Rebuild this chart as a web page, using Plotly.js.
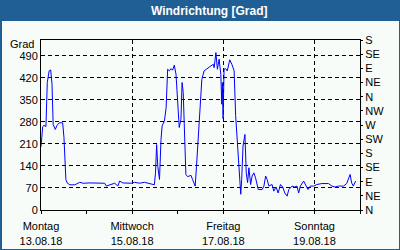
<!DOCTYPE html>
<html>
<head>
<meta charset="utf-8">
<script src="https://cdn.plot.ly/plotly-3.0.1.min.js"></script>
<style>html,body{margin:0;padding:0;}#chart{width:400px;height:250px;}</style>
</head>
<body>
<div id="chart"></div>
<script>
// Hours since Monday 13.08.18 00:00
const startDate = '2018-08-13T00:00:00Z';
const hours = [0,0.9,1.6,2.6,3.3,4.3,5.1,5.8,6.4,7.5,8.5,9.6,11.4,12.1,13.1,13.8,15.2,17.8,20.4,22.2,
  25.7,28.3,30.9,33.5,34.4,37.0,38.8,40.5,41.4,43.1,44.9,47.5,49.3,51.9,54.5,57.1,59.7,60.3,60.9,61.5,
  62.4,63.2,63.8,65.0,65.9,66.7,67.6,68.5,69.3,70.2,71.1,71.9,72.8,73.7,74.3,74.9,75.5,76.3,77.2,79.0,
  79.8,81.2,81.9,83.3,84.7,85.9,87.7,89.4,90.7,91.2,92.1,92.9,93.8,94.7,95.2,95.5,95.9,96.4,97.3,98.1,
  99.4,100.5,101.7,102.5,103.4,104.3,105.2,105.7,106.4,107.4,108.1,108.8,109.5,110.4,111.2,112.1,113.0,114.4,115.6,116.5,
  117.4,118.3,119.1,120.0,121.7,122.6,123.8,124.9,126.1,127.3,128.4,129.6,130.5,132.2,133.6,134.8,135.7,136.6,138.3,139.5,
  140.6,141.8,143.6,145.3,147.9,151.4,153.2,154.9,156.7,159.3,161.0,162.8,163.6,164.5,165.7];
const direction = [201,265,269,265,405,442,445,400,272,256,269,277,277,230,97,86,80,80,88,85,
  86,85,86,85,76,80,85,76,92,86,85,85,88,85,88,84,80,118,208,139,
  97,224,267,283,325,447,442,449,444,460,431,352,262,288,405,373,224,113,106,110,
  97,76,139,298,415,442,449,458,463,452,500,447,479,431,336,405,290,447,449,442,
  477,463,442,300,224,150,50,97,203,240,118,87,134,81,108,118,102,65,65,65,
  76,108,97,76,81,60,73,54,81,73,54,44,65,76,73,76,54,76,92,76,
  65,76,76,81,84,84,76,73,76,76,84,113,86,76,92];

const leftTicks = [0,70,140,210,280,350,420,490];
const rightTickVals = [0,45,90,135,180,225,270,315,360,405,450,495,540];
const rightTickText = ['N','NE','E','SE','S','SW','W','NW','N','NE','E','SE','S'];
const majorTickDates = ['2018-08-13','2018-08-15','2018-08-17','2018-08-19'];
const majorTickText = ['Montag<br>13.08.18','Mittwoch<br>15.08.18','Freitag<br>17.08.18','Sonntag<br>19.08.18'];
const minorTickDates = ['2018-08-13','2018-08-14','2018-08-15','2018-08-16','2018-08-17','2018-08-18','2018-08-19','2018-08-20'];

const t0 = Date.parse(startDate);
const xs = hours.map(h => new Date(t0 + h*3600000).toISOString().slice(0,19).replace('T',' '));

const FONT = 'Liberation Sans, Arial, sans-serif';
const trace = {
  x: xs, y: direction, type: 'scatter', mode: 'lines',
  line: {color: '#0000ff', width: 1}, hoverinfo: 'skip'
};
const trace2 = {x: [xs[0]], y: [0], yaxis: 'y2', mode: 'markers', marker: {opacity: 0}, hoverinfo: 'skip', showlegend: false};

const layout = {
  width: 400, height: 250,
  margin: {l: 41, r: 40, t: 40, b: 40, pad: 0},
  paper_bgcolor: '#1f5f95',
  plot_bgcolor: '#f8fcf8',
  showlegend: false,
  font: {family: FONT, size: 11, color: '#000'},
  title: {
    text: 'Windrichtung [Grad]',
    font: {family: FONT, size: 12, color: '#ffffff', weight: 'bold'},
    x: 0.523, xref: 'container', xanchor: 'center',
    y: 0.958, yref: 'container', yanchor: 'middle'
  },
  xaxis: {
    type: 'date',
    range: ['2018-08-13 00:00', '2018-08-20 00:00'],
    tickmode: 'array', tickvals: majorTickDates, ticktext: majorTickText,
    ticks: 'outside', ticklen: 3, tickcolor: '#000', tickwidth: 1,
    ticklabelstandoff: 3,
    showline: true, linecolor: '#000', linewidth: 1, mirror: true,
    showgrid: true, gridcolor: '#000', griddash: '4px,3px', gridwidth: 1,
    zeroline: false,
    tickfont: {family: FONT, size: 11, color: '#000'},
    minor: {tickmode: 'array', tickvals: minorTickDates, ticks: 'outside', ticklen: 3, tickcolor: '#000', showgrid: false}
  },
  yaxis: {
    range: [0, 540],
    tickmode: 'array', tickvals: leftTicks,
    ticks: '', showline: true, linecolor: '#000', linewidth: 1, mirror: true,
    showgrid: true, gridcolor: '#000', griddash: '4px,3px', gridwidth: 1,
    zeroline: false,
    tickfont: {family: FONT, size: 11, color: '#000'}
  },
  yaxis2: {
    overlaying: 'y', side: 'right',
    range: [0, 540],
    tickmode: 'array', tickvals: rightTickVals, ticktext: rightTickText,
    ticks: 'outside', ticklen: 2, tickcolor: '#000',
    showline: true, linecolor: '#000', linewidth: 1,
    showgrid: false, zeroline: false,
    tickfont: {family: FONT, size: 11, color: '#000'}
  },
  shapes: [
    {type: 'rect', xref: 'paper', yref: 'paper', layer: 'below',
     x0: -39/319, x1: 358/319, y0: -39/170, y1: 189/170,
     fillcolor: '#f8fcf8', line: {width: 0}}
  ],
  annotations: [
    {text: 'Grad', xref: 'paper', yref: 'paper', x: -5/319, y: 166/170,
     xanchor: 'right', yanchor: 'middle', showarrow: false,
     font: {family: FONT, size: 11, color: '#000'}}
  ]
};

Plotly.newPlot('chart', [trace, trace2], layout, {staticPlot: true, displayModeBar: false});
</script>
</body>
</html>
